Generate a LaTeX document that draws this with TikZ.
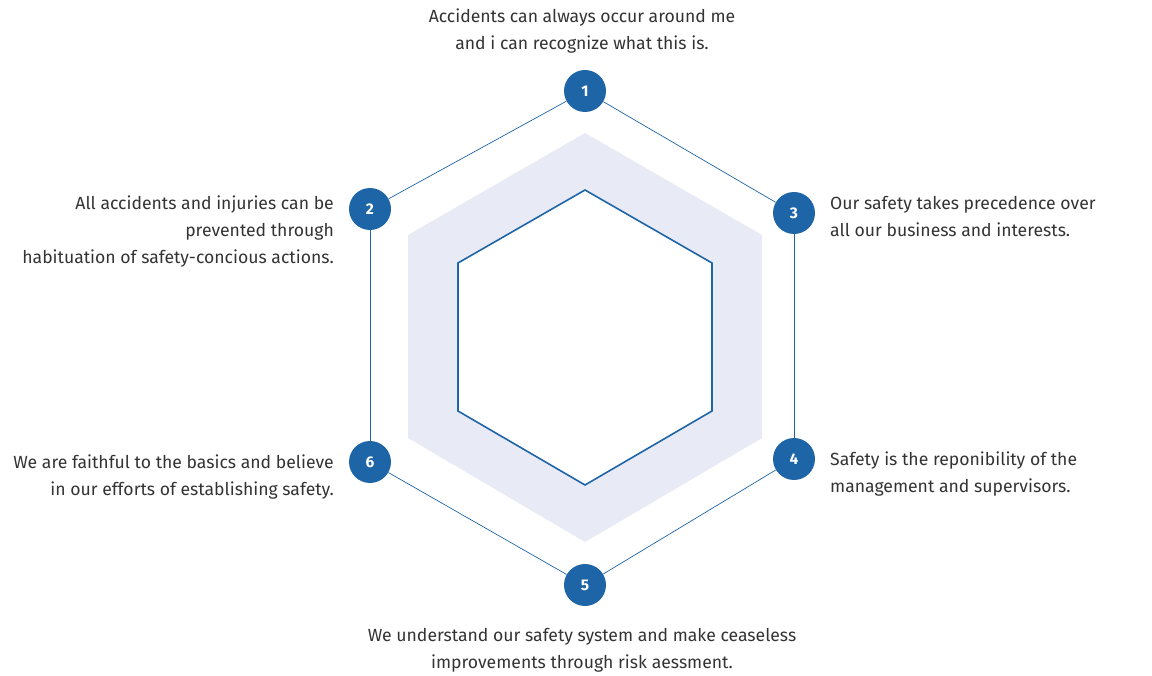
\documentclass[tikz,border=0pt]{standalone}
\usepackage{fontspec}
\setmainfont{Fira Sans}
\definecolor{hexblue}{HTML}{1E65A8}
\definecolor{hexshade}{HTML}{E8EAF5}
\definecolor{textgray}{HTML}{333333}
\begin{document}
\begin{tikzpicture}[
  x=1pt, y=-1pt,
  every node/.style={font=\fontsize{17.6}{27}\selectfont, text=textgray, inner sep=0pt},
  stepnode/.style={circle, fill=hexblue, minimum size=42pt, inner sep=0pt,
    text=white, font=\fontsize{15.5}{15.5}\selectfont\bfseries},
  rim/.style={draw=hexblue, line width=0.7pt},
  core/.style={draw=hexblue, line width=1.6pt, fill=white},
  caption/.style={align=center}
  ]
  \useasboundingbox (0,0) rectangle (1152,676);
  % shaded band
  \fill[hexshade] (585,133) -- (762,235) -- (762,438) -- (585,542)
    -- (408,438) -- (408,235) -- cycle;
  % inner hexagon
  \draw[core] (585,190) -- (712,263) -- (712,411) -- (585,485)
    -- (458,411) -- (458,263) -- cycle;
  % numbered steps
  \node[stepnode] (n1) at (585,91) {1};
  \node[stepnode] (n3) at (794,213) {3};
  \node[stepnode] (n4) at (794,459) {4};
  \node[stepnode] (n5) at (585,585) {5};
  \node[stepnode] (n6) at (370,462) {6};
  \node[stepnode] (n2) at (370,209) {2};
  \draw[rim] (n1) -- (n3);
  \draw[rim] (n3) -- (n4);
  \draw[rim] (n4) -- (n5);
  \draw[rim] (n5) -- (n6);
  \draw[rim] (n6) -- (n2);
  \draw[rim] (n2) -- (n1);
  % captions
  \node[caption, anchor=south] (t1) at (582,53)
    {Accidents can always occur around me\\and i can recognize what this is.};
  \node[align=right, anchor=north east] (t2) at (334,196)
    {All accidents and injuries can be\\prevented through\\habituation of safety-concious actions.};
  \node[align=left, anchor=north west] (t3) at (830,196)
    {Our safety takes precedence over\\all our business and interests.};
  \node[align=left, anchor=north west] (t4) at (830,452)
    {Safety is the reponibility of the\\management and supervisors.};
  \node[align=right, anchor=north east] (t6) at (334,455)
    {We are faithful to the basics and believe\\in our efforts of establishing safety.};
  \node[caption, anchor=north] (t5) at (582,628)
    {We understand our safety system and make ceaseless\\improvements through risk aessment.};
\end{tikzpicture}
\end{document}
